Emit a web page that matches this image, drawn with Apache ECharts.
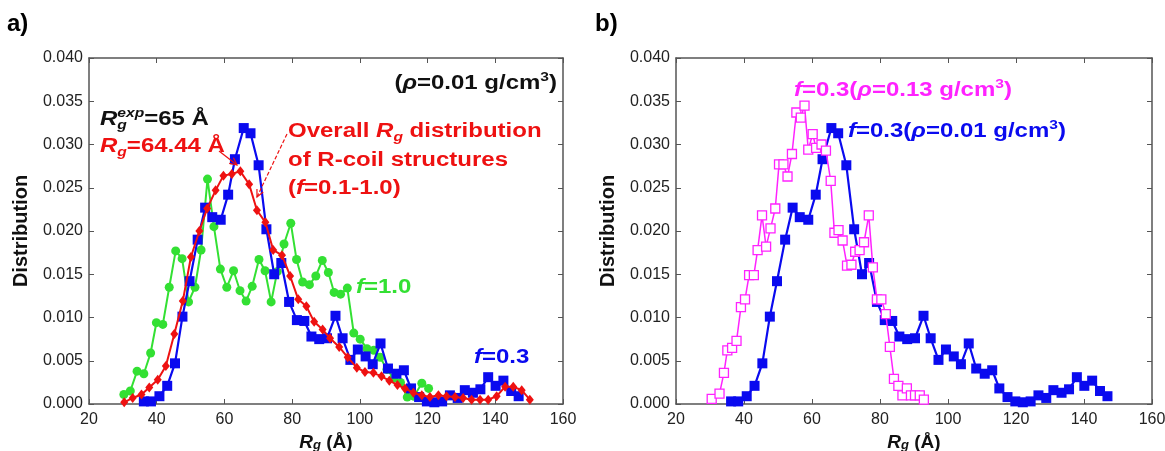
<!DOCTYPE html>
<html><head><meta charset="utf-8">
<script src="https://cdn.jsdelivr.net/npm/echarts@6/dist/echarts.min.js"></script>
<style>html,body{margin:0;padding:0;background:#fff}#c{width:1165px;height:451px}</style>
</head><body><div id="c"></div>
<script>
// ---- data ----
const blueX = [36.2,38.3,40.8,43.1,45.4,47.6,49.7,52.1,54.3,56.4,58.9,61.1,63.1,65.7,67.7,70.1,72.4,74.7,76.8,79.1,81.4,83.6,85.7,88.0,90.3,92.8,94.9,97.2,99.4,101.7,103.8,106.1,108.3,110.8,113.0,115.1,117.5,119.8,122.0,124.3,126.6,128.9,131.0,133.4,135.6,137.9,140.1,142.4,144.7,146.9];
const blueY = [0.0003,0.0003,0.0009,0.0021,0.0047,0.0101,0.0142,0.0190,0.0227,0.0216,0.0213,0.0242,0.0283,0.0319,0.0313,0.0276,0.0202,0.0150,0.0163,0.0118,0.0097,0.0096,0.0078,0.0075,0.0076,0.0102,0.0076,0.0051,0.0063,0.0055,0.0046,0.0070,0.0041,0.0035,0.0039,0.0018,0.0008,0.0003,0.0002,0.0003,0.0010,0.0007,0.0016,0.0013,0.0017,0.0031,0.0021,0.0027,0.0015,0.0009];

const greenX = [30.3,32.2,34.2,36.2,38.2,39.9,41.8,43.7,45.6,47.5,49.4,51.3,53.1,55.0,56.9,58.8,60.7,62.7,64.6,66.4,68.2,70.2,72.0,73.8,75.6,77.6,79.6,81.3,83.1,85.1,87.0,88.9,90.7,92.4,94.3,96.3,98.2,100.1,102.1,104.1,106.0,108.0,110.0,112.0,114.0,116.0,118.3,120.3];
const greenY = [0.0011,0.0015,0.0038,0.0035,0.0059,0.0094,0.0092,0.0135,0.0177,0.0168,0.0118,0.0135,0.0178,0.0260,0.0205,0.0156,0.0135,0.0154,0.0131,0.0119,0.0136,0.0167,0.0154,0.0118,0.0153,0.0185,0.0209,0.0167,0.0141,0.0138,0.0148,0.0166,0.0152,0.0129,0.0127,0.0134,0.0082,0.0075,0.0064,0.0062,0.0054,0.0040,0.0030,0.0025,0.0008,0.0009,0.0024,0.0018];

const redX = [30.4,32.9,35.5,37.8,40.3,42.7,45.2,47.7,50.1,52.6,54.9,57.4,59.7,62.2,64.7,67.3,69.6,72.1,74.4,77.0,79.4,81.8,84.2,86.5,89.0,91.2,93.9,96.4,99.1,101.5,104.0,106.4,108.7,111.1,113.3,115.8,118.3,120.7,123.2,125.6,128.1,130.5,133.0,135.5,137.9,140.4,142.9,145.3,147.8,150.2];
const redY = [0.0002,0.0007,0.0011,0.0019,0.0028,0.0044,0.0081,0.0119,0.0170,0.0200,0.0226,0.0247,0.0264,0.0266,0.0269,0.0254,0.0224,0.0210,0.0178,0.0172,0.0148,0.0121,0.0113,0.0095,0.0086,0.0076,0.0066,0.0054,0.0042,0.0037,0.0036,0.0032,0.0027,0.0022,0.0018,0.0013,0.0010,0.0008,0.0010,0.0009,0.0008,0.0007,0.0005,0.0005,0.0005,0.0009,0.0020,0.0020,0.0016,0.0005];

const magX = [30.5,32.8,34.1,35.1,36.5,37.8,39.1,40.3,41.5,42.9,44.0,45.3,46.5,47.8,49.2,50.3,51.6,52.8,54.1,55.4,56.7,57.8,58.9,60.2,61.2,62.8,64.1,65.5,66.6,67.8,69.0,70.3,71.6,72.7,74.0,75.3,76.7,77.9,79.1,80.4,81.7,82.9,84.1,85.4,86.6,87.9,89.1,90.3,91.7,92.9];
const magY = [0.0006,0.0012,0.0036,0.0062,0.0065,0.0073,0.0112,0.0121,0.0149,0.0149,0.0178,0.0218,0.0182,0.0203,0.0226,0.0277,0.0277,0.0263,0.0289,0.0337,0.0331,0.0345,0.0294,0.0312,0.0296,0.0300,0.0293,0.0258,0.0198,0.0201,0.0189,0.0160,0.0161,0.0176,0.0178,0.0187,0.0218,0.0158,0.0121,0.0121,0.0104,0.0066,0.0029,0.0021,0.0010,0.0018,0.0010,0.0010,0.0010,0.0005];

const xMin = 20, xMax = 160, xStep = 20;
const yMin = 0, yMax = 0.040, yStep = 0.005;

// ---- styling ----
const FF = '"Liberation Sans", Arial, sans-serif';
const BLUE = '#0a0aef', GREEN = '#33e033', RED = '#ee1111', MAG = '#ff22ff';
const AXC = '#555';

function zip(xs, ys){ return xs.map((x,i)=>[x, ys[i]]); }

const chart = echarts.init(document.getElementById('c'), null, {renderer:'canvas'});

const grids = [
  {left: 89, top: 58, width: 474, height: 346, containLabel: false, outerBoundsMode: 'none'},
  {left: 676, top: 58, width: 476, height: 346, containLabel: false, outerBoundsMode: 'none'}
];

const xAxes = [], yAxes = [];
grids.forEach((g, gi) => {
  const common = {gridIndex: gi, type: 'value', min: xMin, max: xMax, interval: xStep,
    axisLine: {show: true, onZero: false, lineStyle: {color: AXC, width: 1.5}},
    axisTick: {show: true, inside: true, length: 5, lineStyle: {color: AXC, width: 1}},
    splitLine: {show: false}};
  xAxes.push(Object.assign({}, common, {position: 'bottom',
    axisLabel: {color: '#222', fontSize: 16, fontFamily: FF, margin: 8},
    name: '{b|R}{s|g}{n| (Å)}', nameLocation: 'middle', nameGap: 24,
    nameTextStyle: {rich: {
      b: {fontSize: 19, fontWeight: 'bold', fontStyle: 'italic', fontFamily: FF, color: '#111', lineHeight: 20, verticalAlign: 'middle'},
      n: {fontSize: 19, fontWeight: 'bold', fontFamily: FF, color: '#111', lineHeight: 20, verticalAlign: 'middle'},
      s: {fontSize: 13, fontWeight: 'bold', fontStyle: 'italic', fontFamily: FF, color: '#111', lineHeight: 13, verticalAlign: 'bottom'}
    }}}));
  xAxes.push(Object.assign({}, common, {position: 'top', axisLabel: {show: false}}));
  const ycommon = {gridIndex: gi, type: 'value', min: yMin, max: yMax, interval: yStep,
    axisLine: {show: true, onZero: false, lineStyle: {color: AXC, width: 1.5}},
    axisTick: {show: true, inside: true, length: 5, lineStyle: {color: AXC, width: 1}},
    splitLine: {show: false}};
  yAxes.push(Object.assign({}, ycommon, {position: 'left',
    axisLabel: {color: '#222', fontSize: 16, fontFamily: FF, margin: 6, formatter: v => v.toFixed(3)},
    name: 'Distribution', nameLocation: 'middle', nameGap: 58, nameRotate: 90,
    nameTextStyle: {fontSize: 20, fontWeight: 'bold', fontFamily: FF, color: '#111'}}));
  yAxes.push(Object.assign({}, ycommon, {position: 'right', axisLabel: {show: false}}));
});

function lineSeries(name, xs, ys, axisIdx, color, symbol, size, lw, z, hollow){
  return {name, type: 'line', xAxisIndex: axisIdx, yAxisIndex: axisIdx, data: zip(xs, ys),
    symbol, symbolSize: size, showSymbol: true, z,
    lineStyle: {color, width: lw},
    itemStyle: hollow ? {color: '#fff', borderColor: color, borderWidth: 1.3} : {color, borderWidth: 0},
    emphasis: {disabled: true}, animation: false};
}

const series = [
  lineSeries('f=1.0', greenX, greenY, 0, GREEN, 'circle', 9, 2, 2),
  lineSeries('f=0.3', blueX, blueY, 0, BLUE, 'rect', 10, 2.2, 3),
  lineSeries('overall', redX, redY, 0, RED, 'diamond', [8,10], 2, 4),
  lineSeries('f=0.3 rho=0.01', blueX, blueY, 2, BLUE, 'rect', 10, 2.2, 3),
  lineSeries('f=0.3 rho=0.13', magX, magY, 2, MAG, 'rect', 9, 1.5, 4, true)
];

// ---- annotation text helper (lays out bold pieces with sub/superscripts) ----
const mctx = document.createElement('canvas').getContext('2d');
const SX = 1.2;
function fontStr(p){ return (p.it ? 'italic ' : '') + 'bold ' + p.sz + 'px ' + FF; }
function runText(x, y, parts, color, alignRight){
  let total = 0;
  parts.forEach(p => { mctx.font = fontStr(p); if (!p.stack) total += mctx.measureText(p.t).width * SX; });
  let cx = alignRight ? x - total : x;
  const els = [];
  parts.forEach(p => {
    const f = fontStr(p);
    mctx.font = f;
    els.push({type: 'text', x: cx, y: y + (p.dy || 0), scaleX: SX, silent: true, z: 10,
      style: {text: p.t, font: f, fill: p.c || color, align: 'left', verticalAlign: 'middle'}});
    if (!p.stack) cx += mctx.measureText(p.t).width * SX;
  });
  return els;
}
const F = 20, SUB = 13;
let graphics = [];
graphics.push({type: 'text', x: 7, y: 24, silent: true, style: {text: 'a)', font: 'bold 24px ' + FF, fill: '#000', align: 'left', verticalAlign: 'middle'}});
graphics.push({type: 'text', x: 595, y: 24, silent: true, style: {text: 'b)', font: 'bold 24px ' + FF, fill: '#000', align: 'left', verticalAlign: 'middle'}});
graphics = graphics.concat(runText(557, 83, [
  {t: '(', sz: F}, {t: 'ρ', sz: F, it: true}, {t: '=0.01 g/cm', sz: F}, {t: '3', sz: SUB, dy: -6}, {t: ')', sz: F}], '#111', true));
graphics = graphics.concat(runText(100, 119, [
  {t: 'R', sz: F, it: true}, {t: 'g', sz: SUB, it: true, dy: 6, stack: true}, {t: 'exp', sz: SUB, it: true, dy: -6}, {t: '=65 Å', sz: F}], '#111'));
graphics = graphics.concat(runText(100, 146, [
  {t: 'R', sz: F, it: true}, {t: 'g', sz: SUB, it: true, dy: 6}, {t: '=64.44 Å', sz: F}], RED));
graphics = graphics.concat(runText(288, 131, [
  {t: 'Overall ', sz: F}, {t: 'R', sz: F, it: true}, {t: 'g', sz: SUB, it: true, dy: 6}, {t: ' distribution', sz: F}], RED));
graphics = graphics.concat(runText(288, 160, [{t: 'of R-coil structures', sz: F}], RED));
graphics = graphics.concat(runText(288, 188, [{t: '(', sz: F}, {t: 'f', sz: F, it: true}, {t: '=0.1-1.0)', sz: F}], RED));
graphics = graphics.concat(runText(356, 287, [{t: 'f', sz: F, it: true}, {t: '=1.0', sz: F}], GREEN));
graphics = graphics.concat(runText(474, 357, [{t: 'f', sz: F, it: true}, {t: '=0.3', sz: F}], BLUE));
graphics = graphics.concat(runText(794, 90, [
  {t: 'f', sz: F, it: true}, {t: '=0.3(', sz: F}, {t: 'ρ', sz: F, it: true}, {t: '=0.13 g/cm', sz: F}, {t: '3', sz: SUB, dy: -6}, {t: ')', sz: F}], MAG));
graphics = graphics.concat(runText(848, 131, [
  {t: 'f', sz: F, it: true}, {t: '=0.3(', sz: F}, {t: 'ρ', sz: F, it: true}, {t: '=0.01 g/cm', sz: F}, {t: '3', sz: SUB, dy: -6}, {t: ')', sz: F}], BLUE));

// arrows
function arrow(x1, y1, x2, y2, color, dashed){
  const a = Math.atan2(y2 - y1, x2 - x1), L = 8, W = 0.45;
  return [
    {type: 'line', silent: true, z: 11, shape: {x1, y1, x2, y2}, style: {stroke: color, lineWidth: 1.2, lineDash: dashed ? [4, 2] : null}},
    {type: 'polyline', silent: true, z: 11, shape: {points: [
      [x2 - L * Math.cos(a - W), y2 - L * Math.sin(a - W)], [x2, y2], [x2 - L * Math.cos(a + W), y2 - L * Math.sin(a + W)]]},
      style: {stroke: color, lineWidth: 1.2, fill: null}}
  ];
}
graphics = graphics.concat(arrow(219, 151, 237, 165, RED, false));
graphics = graphics.concat(arrow(287, 134, 257, 197, RED, true));

chart.setOption({
  animation: false,
  backgroundColor: '#fff',
  grid: grids,
  xAxis: xAxes,
  yAxis: yAxes,
  series: series,
  graphic: graphics
});
</script>
</body></html>
